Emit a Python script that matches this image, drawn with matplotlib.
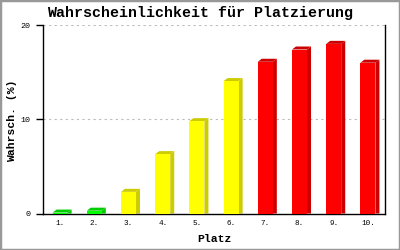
import matplotlib
matplotlib.use("Agg")
import matplotlib.pyplot as plt
from matplotlib.patches import Polygon, Rectangle

# Data
categories = ["1.", "2.", "3.", "4.", "5.", "6.", "7.", "8.", "9.", "10."]
values = [0.1, 0.3, 2.3, 6.3, 9.8, 14.05, 16.1, 17.4, 18.0, 16.0]
front_colors = ["#00ff00", "#00ff00", "#ffff00", "#ffff00", "#ffff00", "#ffff00",
                "#ff0000", "#ff0000", "#ff0000", "#ff0000"]
side_colors = ["#00cc00", "#00cc00", "#cccc00", "#cccc00", "#cccc00", "#cccc00",
               "#cc0000", "#cc0000", "#cc0000", "#cc0000"]
yticks = [0, 10, 20]

W, H = 400, 250
fig = plt.figure(figsize=(W / 100, H / 100), dpi=100)
fig.patch.set_facecolor("white")
fig.patches.append(Rectangle((0, 0), 1, 1, transform=fig.transFigure, fill=False,
                             edgecolor="#999999", linewidth=2.5))

left_px, right_px, top_px, bottom_px = 43, 385, 25, 213.5
ax = fig.add_axes([left_px / W, 1 - bottom_px / H, (right_px - left_px) / W,
                   (bottom_px - top_px) / H])

mono = "Liberation Mono"
x = list(range(len(categories)))
bw = 0.44
ax.set_xlim(-0.5, len(categories) - 0.5)
ax.set_ylim(0, 20)

ax.bar(x, values, width=bw, color=front_colors, edgecolor="none", zorder=3)

# pseudo-3D depth
px_per_x = (right_px - left_px) / len(categories)
px_per_y = (bottom_px - top_px) / 20
dx = 4 / px_per_x
dy = 3 / px_per_y
for xi, v, sc in zip(x, values, side_colors):
    l, r = xi - bw / 2, xi + bw / 2
    side = Polygon([(r, 0), (r + dx, 0), (r + dx, v + dy), (r, v)], closed=True,
                   facecolor=sc, edgecolor="none", zorder=2)
    top = Polygon([(l, v), (r, v), (r + dx, v + dy), (l + dx, v + dy)], closed=True,
                  facecolor=sc, edgecolor="none", zorder=2)
    ax.add_patch(side)
    ax.add_patch(top)

ax.set_yticks(yticks)
ax.set_yticklabels([str(t) for t in yticks], fontfamily=mono, fontsize=6)
ax.set_xticks(x)
ax.set_xticklabels(categories, fontfamily=mono, fontsize=5.5)
ax.tick_params(axis="y", direction="out", length=5, width=1, pad=4)
ax.tick_params(axis="x", length=0, pad=5)

for yt in yticks[1:]:
    ax.axhline(yt, color="#bbbbbb", linestyle=(0, (2, 3)), linewidth=0.8, zorder=1)

ax.spines["top"].set_visible(False)
for s in ["left", "bottom", "right"]:
    ax.spines[s].set_linewidth(1)
    ax.spines[s].set_color("black")

fig.text(200 / W, 1 - 13 / H, "Wahrscheinlichkeit für Platzierung", ha="center",
         va="center", fontfamily=mono, fontweight="bold", fontsize=10.8)
fig.text(200 / W + 14 / W, 1 - 239 / H, "Platz", ha="center", va="center",
         fontfamily=mono, fontweight="bold", fontsize=8.2)
fig.text(12 / W, 1 - 121 / H, "Wahrsch. (%)", ha="center", va="center",
         rotation=90, fontfamily=mono, fontweight="bold", fontsize=8.2)

fig.savefig("out.png", dpi=100)
